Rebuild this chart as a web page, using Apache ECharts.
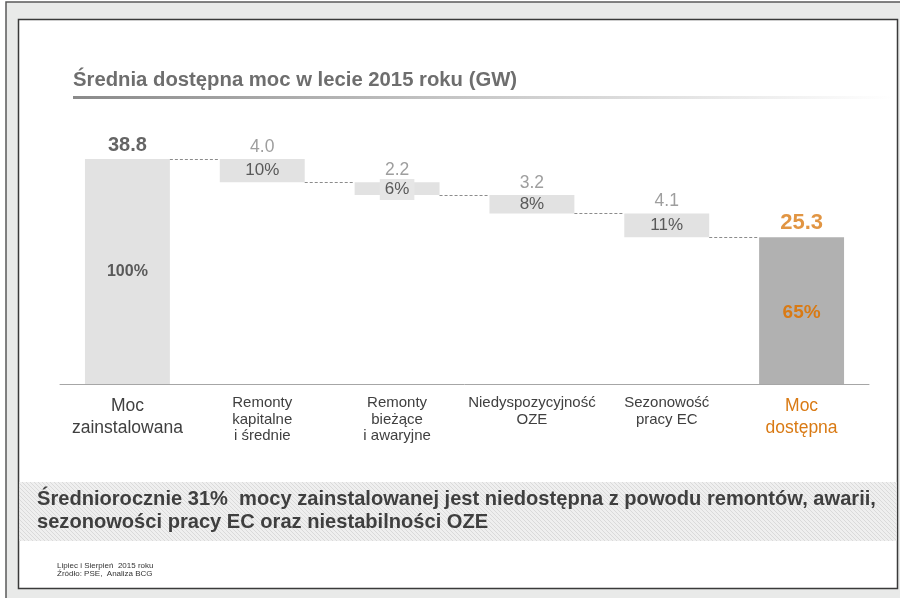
<!DOCTYPE html>
<html>
<head>
<meta charset="utf-8">
<script src="https://cdn.jsdelivr.net/npm/echarts@6/dist/echarts.min.js"></script>
<style>
  html, body { margin: 0; padding: 0; background: #fff; }
  #main { width: 900px; height: 598px; }
</style>
</head>
<body>
<div id="main"></div>
<script>
// dane
var categories = ['Moc\nzainstalowana', 'Remonty\nkapitalne\ni średnie', 'Remonty\nbieżące\ni awaryjne', 'Niedyspozycyjność\nOZE', 'Sezonowość\npracy EC', 'Moc\ndostępna'];
var values = [38.8, 4.0, 2.2, 3.2, 4.1, 25.3];
var shares = ['100%', '10%', '6%', '8%', '11%', '65%'];
var kinds = ['total', 'drop', 'drop', 'drop', 'drop', 'total'];

var ORANGE = '#d97a14';
var FONT = '"Liberation Sans", Arial, sans-serif';

// podstawa (niewidoczna) i poziomy po kazdym kroku
var base = [], levels = [], run = 0;
for (var i = 0; i < values.length; i++) {
  if (kinds[i] === 'total') { base.push(0); run = values[i]; }
  else { run = +(run - values[i]).toFixed(1); base.push(run); }
  levels.push(run);
}
var tops = values.map(function (v, i) { return +(base[i] + v).toFixed(1); });
var connectors = [];
for (var j = 0; j < values.length - 1; j++) connectors.push([j, levels[j]]);

var BAR_W = 0.63;

function hatch() {
  var c = document.createElement('canvas');
  c.width = 4; c.height = 4;
  var g = c.getContext('2d');
  g.fillStyle = '#efefef';
  g.fillRect(0, 0, 4, 4);
  g.strokeStyle = '#dadada';
  g.lineWidth = 1;
  g.beginPath();
  g.moveTo(0, 0); g.lineTo(4, 4);
  g.moveTo(-1, 3); g.lineTo(1, 5);
  g.moveTo(3, -1); g.lineTo(5, 1);
  g.stroke();
  return c;
}

var chart = echarts.init(document.getElementById('main'), null, { renderer: 'canvas' });

var option = {
  animation: false,
  backgroundColor: '#fff',
  textStyle: { fontFamily: FONT },
  grid: { left: 60, right: 31, top: 152, bottom: 214 },
  xAxis: {
    type: 'category',
    data: categories,
    axisLine: { lineStyle: { color: '#a6a6a6', width: 1 } },
    axisTick: { show: false },
    axisLabel: {
      interval: 0,
      margin: 11,
      formatter: function (v, idx) {
        var lines = v.split('\n');
        var st = idx === 0 ? 'big' : (idx === 5 ? 'org' : 'sm');
        return lines.map(function (l) { return '{' + st + '|' + l + '}'; }).join('\n');
      },
      rich: {
        big: { fontSize: 17.5, lineHeight: 22, color: '#404040', fontFamily: FONT },
        org: { fontSize: 17.5, lineHeight: 22, color: ORANGE, fontFamily: FONT },
        sm: { fontSize: 15, lineHeight: 16.5, color: '#404040', fontFamily: FONT }
      }
    }
  },
  yAxis: { type: 'value', min: 0, max: 40, show: false, splitLine: { show: false } },
  series: [
    {
      type: 'bar',
      stack: 'w',
      barWidth: (BAR_W * 100) + '%',
      itemStyle: { color: 'transparent' },
      emphasis: { disabled: true },
      data: base
    },
    {
      type: 'bar',
      stack: 'w',
      barWidth: (BAR_W * 100) + '%',
      emphasis: { disabled: true },
      data: values.map(function (v, i) {
        var last = i === values.length - 1;
        var first = i === 0;
        var lbl = { show: true, position: 'inside', formatter: shares[i], fontFamily: FONT };
        if (first) { lbl.fontSize = 16; lbl.fontWeight = 'bold'; lbl.color = '#595959'; }
        else if (last) { lbl.fontSize = 19; lbl.fontWeight = 'bold'; lbl.color = ORANGE; lbl.offset = [0, 2]; }
        else { lbl.fontSize = 17; lbl.color = '#595959'; }
        if (shares[i] === '6%') { lbl.backgroundColor = '#e6e6e6'; lbl.padding = [2, 5, 2, 5]; lbl.offset = [0, 1]; }
        return {
          value: v,
          itemStyle: { color: last ? '#b1b1b1' : '#e2e2e2' },
          label: lbl
        };
      })
    },
    {
      type: 'custom',
      data: connectors,
      encode: { x: 0, y: 1 },
      z: 3,
      silent: true,
      renderItem: function (params, api) {
        var idx = api.value(0), lv = api.value(1);
        var a = api.coord([idx, lv]);
        var b = api.coord([idx + 1, lv]);
        var hw = api.size([1, 0])[0] * BAR_W / 2;
        return {
          type: 'line',
          shape: { x1: a[0] + hw, y1: Math.round(a[1]) + 0.5, x2: b[0] - hw, y2: Math.round(b[1]) + 0.5 },
          style: { stroke: '#8c8c8c', lineWidth: 1, lineDash: [3, 2] }
        };
      }
    },
    {
      type: 'scatter',
      symbolSize: 0,
      silent: true,
      data: tops.map(function (t, i) {
        var first = i === 0, last = i === tops.length - 1;
        return {
          value: [i, t],
          label: {
            show: true,
            position: 'top',
            distance: 3,
            formatter: values[i].toFixed(1),
            fontFamily: FONT,
            fontSize: first ? 20 : (last ? 22 : 17.5),
            fontWeight: (first || last) ? 'bold' : 'normal',
            color: first ? '#3f3f3f' : (last ? ORANGE : '#868686')
          }
        };
      })
    }
  ],
  graphic: [
    // ramka slajdu
    { type: 'rect', z: -20, shape: { x: 6, y: 2, width: 900, height: 600 },
      style: { fill: '#e9eae9', stroke: '#5a5a5a', lineWidth: 1.5 } },
    { type: 'rect', z: -19, shape: { x: 18.5, y: 19.5, width: 879, height: 569 },
      style: { fill: '#ffffff', stroke: '#3a3a3a', lineWidth: 1.5 } },
    // tytul
    { type: 'text', z: 10, x: 73, y: 80,
      style: { text: 'Średnia dostępna moc w lecie 2015 roku (GW)', fill: '#6e6e6e',
        font: 'bold 20.3px ' + FONT, textVerticalAlign: 'middle' } },
    { type: 'rect', z: 10, shape: { x: 73, y: 96, width: 820, height: 3 },
      style: { fill: new echarts.graphic.LinearGradient(0, 0, 1, 0, [
        { offset: 0, color: '#8a8a8a' }, { offset: 0.45, color: '#c4c4c4' }, { offset: 1, color: '#ffffff' }]) } },
    // pasek z wnioskiem
    { type: 'rect', z: 10, shape: { x: 19.5, y: 482, width: 877, height: 59 },
      style: { fill: { image: hatch(), repeat: 'repeat' } } },
    { type: 'text', z: 11, x: 37, y: 499,
      style: { text: 'Średniorocznie 31%  mocy zainstalowanej jest niedostępna z powodu remontów, awarii,',
        fill: '#3f3f3f', font: 'bold 20.1px ' + FONT, textVerticalAlign: 'middle' } },
    { type: 'text', z: 11, x: 37, y: 522,
      style: { text: 'sezonowości pracy EC oraz niestabilności OZE',
        fill: '#3f3f3f', font: 'bold 20.1px ' + FONT, textVerticalAlign: 'middle' } },
    // zrodla
    { type: 'text', z: 11, x: 57, y: 566,
      style: { text: 'Lipiec i Sierpień  2015 roku', fill: '#333', font: '8px ' + FONT, textVerticalAlign: 'middle' } },
    { type: 'text', z: 11, x: 57, y: 574,
      style: { text: 'Źródło: PSE,  Analiza BCG', fill: '#333', font: '8px ' + FONT, textVerticalAlign: 'middle' } }
  ]
};

chart.setOption(option);
</script>
</body>
</html>
